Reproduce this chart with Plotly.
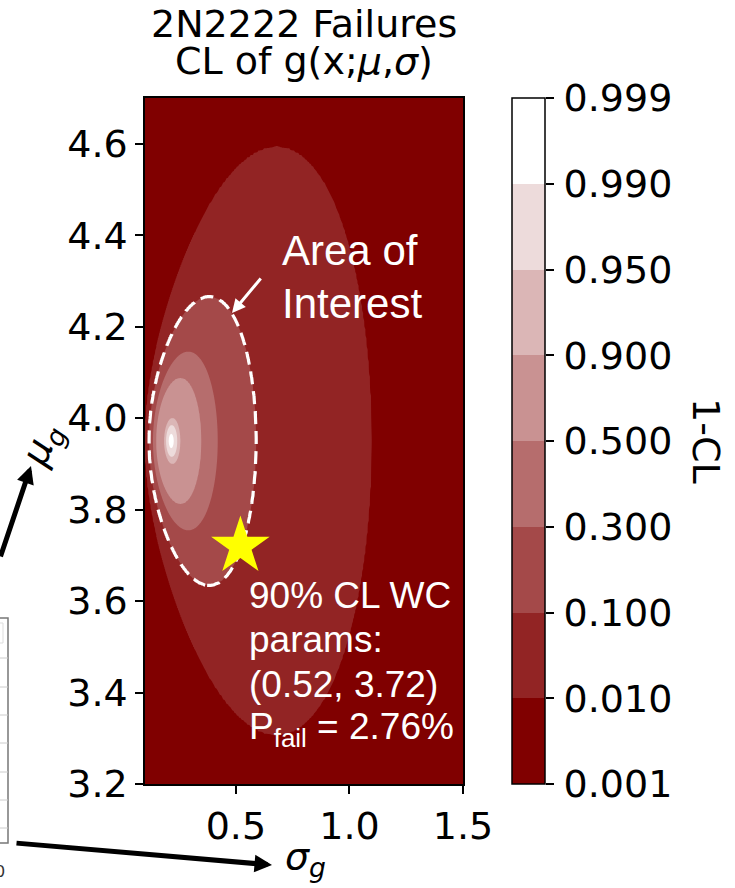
import numpy as np
import plotly.graph_objects as go

# Normal fit to the 2N2222 failure data (location / scale of g)
n_failures = 4
mu_hat = 3.95
sigma_hat = 0.215

# 1-CL boundaries used for the filled bands and the colour bar
cl_levels = [0.001, 0.010, 0.100, 0.300, 0.500, 0.900, 0.950, 0.990, 0.999]
cl_labels = ["0.001", "0.010", "0.100", "0.300", "0.500", "0.900", "0.950", "0.990", "0.999"]
band_colors = ["#800000", "#922424", "#a44949", "#b66d6d",
               "#c99292", "#dbb6b6", "#eddbdb", "#ffffff"]

# Worst-case parameters on the 90% CL boundary
wc_cl = 0.90
wc_sigma = 0.52
wc_mu = 3.72
p_fail_pct = 2.76

x_ticks = [0.5, 1.0, 1.5]
y_ticks = [3.2, 3.4, 3.6, 3.8, 4.0, 4.2, 4.4, 4.6]
x_range = [0.1, 1.5]
y_range = [3.2, 4.7]

# ---- likelihood-ratio surface (1-CL for two parameters) ----
sig = np.unique(np.round(np.concatenate([np.linspace(0.1, 1.5, 281),
                                         np.linspace(0.15, 0.32, 171)]), 5))
mu = np.unique(np.round(np.concatenate([np.linspace(3.2, 4.7, 301),
                                        np.linspace(3.85, 4.05, 201)]), 5))
S, M = np.meshgrid(sig, mu)
ratio = (sigma_hat / S) ** n_failures * np.exp(
    n_failures / 2 - n_failures * (sigma_hat ** 2 + (M - mu_hat) ** 2) / (2 * S ** 2))
# map the uneven CL levels onto equally spaced band indices
level_idx = np.arange(len(cl_levels))
band = np.interp(ratio, cl_levels, level_idx).astype(np.float32)
nb = len(band_colors) - 1
colorscale = [[k / nb, c] for k, c in enumerate(band_colors)]

# ---- page geometry (pixels) ----
W, H = 735, 888
L, R, T, B = 145, 15, 98, 104
PW, PH = W - L - R, H - T - B
main_right, cbar_left, cbar_right = 463, 512, 545


def px(xp):
    return (xp - L) / PW


def py(yp):
    return (H - B - yp) / PH


tick_font = dict(family="DejaVu Sans", size=38, color="black")
note_font = dict(family="Liberation Sans, Arial", color="white")

fig = go.Figure()
fig.add_trace(go.Contour(
    x=sig, y=mu, z=band,
    contours=dict(start=1, end=len(cl_levels) - 2, size=1, coloring="fill"),
    colorscale=colorscale, showscale=False,
    line=dict(width=0),
    hoverinfo="skip",
))

# 90% CL boundary (area of interest)
wc_level = cl_levels.index(round(1 - wc_cl, 3))
fig.add_trace(go.Contour(
    x=sig, y=mu, z=band,
    contours=dict(start=wc_level, end=wc_level, size=1, coloring="none"),
    line=dict(color="white", width=3.2, dash="13px,7px"),
    showscale=False, hoverinfo="skip",
))

# worst-case parameter point
fig.add_trace(go.Scatter(
    x=[wc_sigma], y=[wc_mu], mode="markers",
    marker=dict(symbol="star", size=44, color="#ffff00", line=dict(width=0)),
    hoverinfo="skip", showlegend=False,
))

# stepped colour bar: one cell per CL band
fig.add_trace(go.Heatmap(
    x=[0], y=(level_idx[:-1] + 0.5).tolist(),
    z=[[k] for k in range(len(band_colors))],
    colorscale=colorscale, zmin=0, zmax=nb, showscale=False,
    xaxis="x2", yaxis="y2", hoverinfo="skip",
))

ann = []
# title lines
ann.append(dict(text="2N2222 Failures", x=px((L + main_right) / 2), y=py(24), xref="paper",
                yref="paper", showarrow=False, font=tick_font, xanchor="center", yanchor="middle"))
ann.append(dict(text="CL of g(x;<i>μ</i>,<i>σ</i>)", x=px((L + main_right) / 2), y=py(61),
                xref="paper", yref="paper", showarrow=False, font=tick_font,
                xanchor="center", yanchor="middle"))
# colour bar title
ann.append(dict(text="1-CL", x=px(706), y=0.5, xref="paper", yref="paper", textangle=90,
                showarrow=False, font=tick_font, xanchor="center", yanchor="middle"))
# axis symbols with arrows
ann.append(dict(text="<i>μ</i><sub><i>g</i></sub>", x=px(42), y=py(445), xref="paper", yref="paper",
                textangle=-68, showarrow=False, font=tick_font, xanchor="center", yanchor="middle"))
ann.append(dict(text="<i>σ</i><sub><i>g</i></sub>", x=px(305), y=py(858), xref="paper", yref="paper",
                showarrow=False, font=tick_font, xanchor="center", yanchor="middle"))
ann.append(dict(text="", x=px(31), y=py(466), xref="paper", yref="paper",
                ax=-36, ay=92, showarrow=True, arrowhead=2, arrowsize=0.7, arrowwidth=5,
                arrowcolor="black"))
ann.append(dict(text="", x=px(272), y=py(865), xref="paper", yref="paper",
                ax=-257, ay=-22, showarrow=True, arrowhead=2, arrowsize=0.7, arrowwidth=5,
                arrowcolor="black"))
# area of interest callout
ann.append(dict(text="Area of", x=px(280), y=py(250), xref="paper", yref="paper",
                showarrow=False, font=dict(note_font, size=42), xanchor="left", yanchor="middle"))
ann.append(dict(text="Interest", x=px(280), y=py(303), xref="paper", yref="paper",
                showarrow=False, font=dict(note_font, size=42), xanchor="left", yanchor="middle"))
ann.append(dict(text="", x=px(232), y=py(313), xref="paper", yref="paper",
                ax=30, ay=-36, showarrow=True, arrowhead=2, arrowsize=0.9, arrowwidth=3,
                arrowcolor="white"))
# worst-case note
note_lines = [
    f"{wc_cl * 100:.0f}% CL WC",
    "params:",
    f"({wc_sigma:.2f}, {wc_mu:.2f})",
    f"P<sub>fail</sub> = {p_fail_pct:.2f}%",
]
for i, line in enumerate(note_lines):
    ann.append(dict(text=line, x=px(247), y=py(595 + 44.7 * i), xref="paper", yref="paper",
                    showarrow=False, font=dict(note_font, size=37), xanchor="left",
                    yanchor="middle"))
# clipped neighbouring panel at the left edge
ann.append(dict(text="0", x=px(7), y=py(872), xref="paper", yref="paper", showarrow=False,
                font=dict(family="DejaVu Sans", size=16, color="#333333"),
                xanchor="right", yanchor="middle"))

shapes = [dict(type="rect", xref="paper", yref="paper", x0=px(-20), x1=px(8), y0=py(843), y1=py(618),
               line=dict(color="#777777", width=1.5))]
for gy in [658, 687, 715, 743, 772, 800, 828]:
    shapes.append(dict(type="line", xref="paper", yref="paper", x0=px(-20), x1=px(8),
                       y0=py(gy), y1=py(gy), line=dict(color="#cccccc", width=1)))
shapes.append(dict(type="rect", xref="paper", yref="paper", x0=px(-20), x1=px(3), y0=py(643),
                   y1=py(623), line=dict(color="#dddddd", width=1)))
# frame around the colour bar
shapes.append(dict(type="rect", xref="x2 domain", yref="y2 domain", x0=0, x1=1, y0=0, y1=1,
                   line=dict(color="black", width=1.5), layer="above"))

axis_common = dict(showline=True, linecolor="black", linewidth=1.5, mirror=True,
                   ticks="outside", ticklen=8, tickwidth=1.5, tickcolor="black",
                   showgrid=False, zeroline=False, tickfont=tick_font)
fig.update_layout(
    width=W, height=H, margin=dict(l=L, r=R, t=T, b=B, autoexpand=False),
    paper_bgcolor="white", plot_bgcolor="#800000",
    xaxis=dict(axis_common, domain=[0, px(main_right)], range=x_range, tickvals=x_ticks,
               ticktext=[f"{v:.1f}" for v in x_ticks]),
    yaxis=dict(axis_common, range=y_range, tickvals=y_ticks,
               ticktext=[f"{v:.1f}" for v in y_ticks]),
    xaxis2=dict(domain=[px(cbar_left), px(cbar_right)], anchor="y2", range=[-0.5, 0.5],
                showticklabels=False, ticks="", showline=False, showgrid=False, zeroline=False),
    yaxis2=dict(axis_common, anchor="x2", side="right", showline=False,
                range=[0, len(band_colors)],
                tickvals=level_idx.tolist(), ticktext=cl_labels, ticklabelstandoff=2),
    annotations=ann, shapes=shapes, showlegend=False,
)
fig.write_html("out.html")
